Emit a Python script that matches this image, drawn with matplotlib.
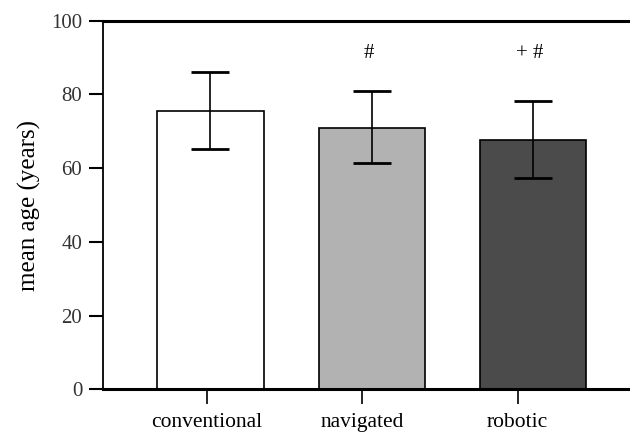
import numpy as np
import matplotlib
matplotlib.use('Agg')
import matplotlib.pyplot as plt

# Data
groups = ['conventional', 'navigated', 'robotic']
means = [75.5, 70.8, 67.6]
err_upper = [86.0, 80.9, 78.3]
err_lower = [65.2, 61.3, 57.4]
colors = ['#ffffff', '#b2b2b2', '#4b4b4b']
marks = ['', '#', '+ #']

plt.rcParams['font.family'] = ['Liberation Serif', 'DejaVu Serif']

fig = plt.figure(figsize=(6.3, 4.37), dpi=100)
ax = fig.add_axes([0.1635, 0.1087, 0.8365, 0.8439])

x = np.arange(len(groups))
means_a = np.array(means)
yerr = [means_a - np.array(err_lower), np.array(err_upper) - means_a]

ax.bar(x, means, width=0.66, color=colors, edgecolor='black', linewidth=1.2, zorder=2)
ax.errorbar(x, means, yerr=yerr, fmt='none', ecolor='black', elinewidth=1.2,
            capsize=13.5, capthick=2, zorder=3)

for xi, m in zip(x, marks):
    if m:
        ax.text(xi - 0.02, 91.0, m, ha='center', va='center', fontsize=15)

ax.set_xlim(-0.666, 2.6)
ax.set_ylim(0, 100)
ax.set_yticks([0, 20, 40, 60, 80, 100])
# category ticks sit slightly left of the bar centres in the original
ax.set_xticks(-0.024 + 0.964 * x)
ax.set_xticklabels(groups, fontsize=15.5)
ax.tick_params(axis='y', labelsize=15, length=10, width=1.5, pad=5, colors='black')
ax.tick_params(axis='x', length=11, width=1.2, pad=6)
for lbl in ax.get_yticklabels():
    lbl.set_color('#333333')

ax.spines['right'].set_visible(False)
ax.spines['top'].set_linewidth(2.2)
ax.spines['bottom'].set_linewidth(2.2)
ax.spines['left'].set_linewidth(1.3)

ax.set_ylabel('mean age (years)', fontsize=18, labelpad=7)

fig.savefig('out.png', dpi=100)
